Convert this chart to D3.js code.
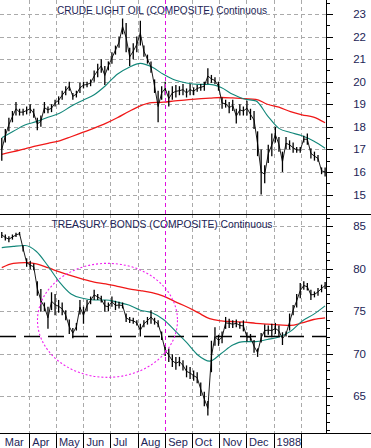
<!DOCTYPE html>
<html>
<head>
<meta charset="utf-8">
<script src="https://cdn.jsdelivr.net/npm/d3@7"></script>
<style>
  body { margin: 0; background: #fff; }
  svg { display: block; font-family: "Liberation Sans", Arial, sans-serif; }
</style>
</head>
<body>
<svg id="chart" width="371" height="448"></svg>
<script>
// price bars sampled every 4 days from 1 Mar 1987, moving averages every 13 days
const oilHigh = [17.5, 17.9, 18.4, 18.7, 19.1, 18.8, 18.8, 18.9, 19.0, 18.8, 18.4, 18.5, 19.1, 18.9, 19.0, 19.2,
  19.35, 19.6, 19.8, 20.0, 19.5, 19.6, 19.95, 20.0, 20.0, 20.1, 20.5, 20.8, 21.0, 20.7, 20.9, 21.3,
  21.6, 22.0, 22.8, 22.6, 21.5, 21.7, 22.0, 22.7, 21.6, 21.2, 20.9, 20.1, 19.6, 19.8, 20.0, 19.6,
  19.8, 19.85, 19.8, 19.9, 19.7, 19.9, 19.75, 19.85, 19.9, 20.0, 20.6, 20.3, 20.2, 20.0, 19.3, 19.2,
  19.1, 19.2, 18.8, 19.0, 18.9, 19.15, 18.8, 18.7, 17.8, 17.0, 16.3, 17.2, 17.7, 18.0, 17.55, 16.9,
  17.55, 17.4, 17.3, 17.1, 17.1, 17.6, 17.7, 17.05, 16.9, 16.75, 16.2, 16.2];
const oilLow = [16.5, 17.3, 17.8, 18.2, 18.5, 18.5, 18.5, 18.55, 18.6, 18.4, 17.85, 18.0, 18.6, 18.6, 18.65, 18.9,
  19.0, 19.2, 19.4, 19.6, 19.2, 19.3, 19.5, 19.7, 19.75, 19.8, 20.0, 20.2, 20.4, 19.85, 20.5, 20.8,
  21.2, 21.5, 22.1, 21.3, 20.7, 21.0, 21.3, 21.6, 21.1, 20.8, 20.4, 19.5, 18.2, 19.2, 19.4, 18.9,
  19.2, 19.3, 19.4, 19.4, 19.3, 19.4, 19.4, 19.55, 19.6, 19.6, 19.9, 19.95, 19.9, 19.6, 18.8, 18.85,
  18.6, 18.7, 18.15, 18.5, 18.5, 18.5, 18.3, 17.9, 16.7, 15.0, 15.5, 16.4, 16.7, 17.3, 16.9, 16.0,
  17.0, 17.0, 16.85, 16.85, 16.85, 17.3, 17.2, 16.6, 16.5, 16.45, 15.9, 15.8];
const oilMaShort = [17.52, 17.8, 18.08, 18.23, 18.42, 18.6, 18.91, 19.17, 19.42, 19.83, 20.33, 20.63, 20.81, 20.65, 20.33,
  20.07, 19.94, 19.88, 19.88, 19.74, 19.44, 19.23, 19.15, 18.5, 17.93, 17.75, 17.6, 17.37, 17.05];
const oilMaLong = [16.78, 16.9, 17.02, 17.15, 17.27, 17.38, 17.56, 17.75, 17.94, 18.15, 18.4, 18.68, 18.93, 19.07, 19.09,
  19.15, 19.19, 19.24, 19.27, 19.3, 19.28, 19.25, 19.22, 19.0, 18.87, 18.67, 18.53, 18.43, 18.18];

const bondHigh = [84.3, 84.0, 83.8, 84.0, 84.2, 84.3, 82.7, 81.2, 80.9, 80.6, 78.5, 77.6, 76.0, 75.5, 77.2, 77.0,
  76.3, 76.0, 75.1, 74.0, 73.0, 73.6, 76.3, 75.5, 76.3, 76.7, 77.5, 77.0, 76.8, 76.3, 76.0, 76.7,
  76.2, 76.1, 76.0, 74.7, 74.3, 74.2, 73.9, 73.5, 73.9, 74.3, 75.1, 74.2, 73.9, 72.6, 71.0, 70.6,
  69.9, 69.6, 69.6, 69.2, 68.6, 68.4, 68.0, 67.8, 66.6, 65.5, 64.4, 71.5, 73.1, 72.2, 72.6, 74.3,
  74.1, 73.9, 74.0, 73.7, 73.9, 72.5, 72.3, 71.6, 70.6, 72.4, 73.4, 73.3, 73.5, 73.6, 73.3, 72.5,
  72.6, 74.7, 75.7, 77.0, 78.3, 78.5, 78.3, 77.5, 77.3, 77.7, 78.1, 78.4];
const bondLow = [83.6, 83.3, 83.1, 83.4, 83.7, 83.9, 82.0, 80.2, 79.9, 79.8, 76.8, 74.9, 75.0, 72.9, 75.1, 74.5,
  74.8, 74.5, 73.9, 72.3, 71.8, 72.7, 74.6, 73.5, 75.0, 75.8, 76.3, 76.3, 76.0, 74.9, 75.0, 75.5,
  75.1, 75.3, 75.3, 73.7, 73.6, 73.5, 73.3, 72.0, 73.1, 73.4, 73.5, 73.4, 73.1, 71.6, 69.7, 69.0,
  68.4, 68.1, 68.5, 68.0, 67.2, 67.0, 66.8, 66.5, 65.0, 63.8, 62.7, 67.8, 70.9, 70.9, 71.2, 72.9,
  73.0, 73.0, 73.1, 72.9, 72.6, 71.4, 71.5, 70.1, 69.6, 71.3, 72.0, 72.2, 71.9, 72.3, 72.0, 71.0,
  72.0, 72.7, 74.5, 75.4, 76.5, 77.5, 77.4, 76.3, 76.6, 76.8, 77.2, 77.6];
const bondMaShort = [82.45, 82.6, 82.7, 82.0, 80.3, 78.4, 77.0, 76.5, 76.3, 76.3, 76.05, 75.7, 75.1, 74.8, 74.0,
  72.7, 71.3, 69.8, 69.1, 70.0, 71.0, 71.4, 71.4, 71.65, 71.95, 72.6, 73.8, 74.6, 75.6];
const bondMaLong = [80.1, 80.6, 80.7, 80.55, 80.1, 79.6, 79.15, 78.75, 78.4, 78.2, 77.9, 77.6, 77.4, 77.15, 76.75,
  76.1, 75.5, 74.8, 74.1, 73.85, 73.75, 73.7, 73.55, 73.45, 73.37, 73.3, 73.6, 74.0, 74.2];

const oilTicks = [15, 16, 17, 18, 19, 20, 21, 22, 23];
const bondTicks = [65, 70, 75, 80, 85];
const bondSupport = 72;
const monthLabels = ["Mar", "Apr", "May", "Jun", "Jul", "Aug", "Sep", "Oct", "Nov", "Dec", "1988", ""];

const svg = d3.select("#chart");
const plotRight = 326;
const navy = "#1c2456";

const firstBar = new Date(1987, 2, 1);
const barDates = oilHigh.map((_, i) => d3.timeDay.offset(firstBar, 4 * i));
const maDates = oilMaShort.map((_, i) => d3.timeDay.offset(firstBar, 13 * i));

const x = d3.scaleTime()
  .domain([new Date(1987, 1, 27), new Date(1988, 1, 29)])
  .range([0, plotRight]);
const yOil = d3.scaleLinear().domain([15, 23]).range([194.5, 14]);
const yBond = d3.scaleLinear().domain([65, 85]).range([396, 226]);

const months = d3.timeMonth.range(new Date(1987, 2, 1), new Date(1988, 2, 1));

function panel(top, bottom, y, ticks, minorStep, majorStep, highs, lows, maShort, maLong, title, titleLen) {
  const g = svg.append("g");

  // dashed grid
  g.selectAll(".hgrid").data(ticks).join("line")
    .attr("x1", 0).attr("x2", plotRight)
    .attr("y1", d => Math.round(y(d)) + 0.5).attr("y2", d => Math.round(y(d)) + 0.5)
    .attr("stroke", "#aaaaaa").attr("stroke-dasharray", "4,3");
  g.selectAll(".vgrid").data(months.slice(1).filter(m => m.getMonth() !== 8)).join("line")
    .attr("x1", d => Math.round(x(d)) + 0.5).attr("x2", d => Math.round(x(d)) + 0.5)
    .attr("y1", top).attr("y2", bottom)
    .attr("stroke", "#aaaaaa").attr("stroke-dasharray", "4,3");

  // right axis with minor ticks
  const [lo, hi] = y.invert(bottom) < y.invert(top) ? [y.invert(bottom), y.invert(top)] : [y.invert(top), y.invert(bottom)];
  const minor = d3.range(Math.ceil(lo / minorStep) * minorStep, hi, minorStep);
  g.selectAll(".tick").data(minor).join("line")
    .attr("x1", plotRight).attr("x2", d => plotRight + (Math.abs(d / majorStep - Math.round(d / majorStep)) < 1e-6 ? 7 : 4))
    .attr("y1", d => Math.round(y(d)) + 0.5).attr("y2", d => Math.round(y(d)) + 0.5)
    .attr("stroke", "#000");
  g.selectAll(".label").data(ticks).join("text")
    .attr("x", 366).attr("y", d => y(d) + 4)
    .attr("text-anchor", "end").attr("font-size", 11.5).attr("fill", navy)
    .text(d => d);

  // moving averages
  const line = d3.line().x((d, i) => x(maDates[i])).y(d => y(d)).curve(d3.curveMonotoneX);
  g.append("path").attr("d", line(maLong)).attr("fill", "none").attr("stroke", "#f01818").attr("stroke-width", 1.3);
  g.append("path").attr("d", line(maShort)).attr("fill", "none").attr("stroke", "#12877a").attr("stroke-width", 1.1);

  // price bars
  const mid = highs.map((h, i) => (h + lows[i]) / 2);
  g.append("path")
    .attr("d", d3.line().x((d, i) => x(barDates[i])).y(d => y(d))(mid))
    .attr("fill", "none").attr("stroke", "#000").attr("stroke-width", 0.9);
  g.selectAll(".bar").data(highs).join("line")
    .attr("x1", (d, i) => x(barDates[i])).attr("x2", (d, i) => x(barDates[i]))
    .attr("y1", d => y(d)).attr("y2", (d, i) => y(lows[i]))
    .attr("stroke", "#000").attr("stroke-width", 1.3);

  g.append("text")
    .attr("x", 162).attr("y", top + 13.5).attr("text-anchor", "middle")
    .attr("font-size", 11).attr("fill", navy)
    .attr("textLength", titleLen).attr("lengthAdjust", "spacingAndGlyphs")
    .text(title);
  return g;
}

panel(0, 214, yOil, oilTicks, 0.5, 1, oilHigh, oilLow, oilMaShort, oilMaLong,
  "CRUDE LIGHT OIL (COMPOSITE) Continuous", 210);
const bonds = panel(214, 433, yBond, bondTicks, 1, 5, bondHigh, bondLow, bondMaShort, bondMaLong,
  "TREASURY BONDS (COMPOSITE) Continuous", 221);

// support line and highlighted region
bonds.append("line")
  .attr("x1", 0).attr("x2", plotRight)
  .attr("y1", yBond(bondSupport)).attr("y2", yBond(bondSupport))
  .attr("stroke", "#000").attr("stroke-width", 1.5).attr("stroke-dasharray", "16,8");
bonds.append("ellipse")
  .attr("cx", x(new Date(1987, 5, 28))).attr("cy", yBond(73.9))
  .attr("rx", 70).attr("ry", 57)
  .attr("fill", "none").attr("stroke", "#f020f0").attr("stroke-width", 1.1).attr("stroke-dasharray", "2,2");

// marker at start of September
svg.append("line")
  .attr("x1", Math.round(x(new Date(1987, 8, 1))) + 0.5).attr("x2", Math.round(x(new Date(1987, 8, 1))) + 0.5)
  .attr("y1", 0).attr("y2", 433)
  .attr("stroke", "#e010e0").attr("stroke-dasharray", "4,3");

// frame
svg.append("line").attr("x1", 0).attr("x2", 371).attr("y1", 214.5).attr("y2", 214.5).attr("stroke", "#000");
svg.append("line").attr("x1", 0).attr("x2", 371).attr("y1", 433.5).attr("y2", 433.5).attr("stroke", "#000");
svg.append("line").attr("x1", plotRight + 0.5).attr("x2", plotRight + 0.5).attr("y1", 0).attr("y2", 433).attr("stroke", "#000");

// month axis
svg.selectAll(".mtick").data(months.slice(1)).join("line")
  .attr("x1", d => Math.round(x(d)) + 0.5).attr("x2", d => Math.round(x(d)) + 0.5)
  .attr("y1", 433).attr("y2", 448).attr("stroke", "#000");
svg.selectAll(".mlabel").data(months).join("text")
  .attr("x", d => Math.max(x(d), 0) + 3).attr("y", 446)
  .attr("font-size", 11).attr("fill", navy)
  .text((d, i) => monthLabels[i]);
</script>
</body>
</html>
